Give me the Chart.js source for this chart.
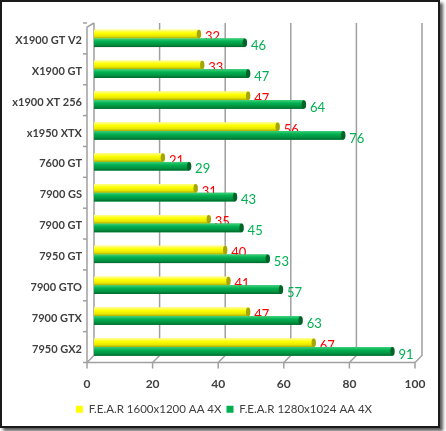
<!DOCTYPE html>
<html>
<head>
<meta charset="utf-8">
<script src="https://cdn.jsdelivr.net/npm/chart.js@4"></script>
<style>
html, body { margin: 0; padding: 0; background: #fff; }
#frame { position: absolute; left: 0; top: 0; width: 440px; height: 428px; box-sizing: border-box;
  border: 2px solid #1a1a1a; box-shadow: 3px 3px 3px rgba(0,0,0,0.65); background: #fff; }
#c { position: absolute; left: 0; top: 0; }
</style>
</head>
<body>
<div id="frame"></div>
<canvas id="c" width="446" height="431"></canvas>
<script>
const cards = ["X1900 GT V2", "X1900 GT", "x1900 XT 256", "x1950 XTX", "7600 GT", "7900 GS",
  "7900 GT", "7950 GT", "7900 GTO", "7900 GTX", "7950 GX2"];
const fear1600 = [32, 33, 47, 56, 21, 31, 35, 40, 41, 47, 67];
const fear1280 = [46, 47, 64, 76, 29, 43, 45, 53, 57, 63, 91];
const seriesNames = ["F.E.A.R 1600x1200 AA 4X", "F.E.A.R 1280x1024 AA 4X"];
const xTicks = [0, 20, 40, 60, 80, 100];

const depth = 7;
const textColor = "#404040";
const gridColor = "#a0a0a0";

// back wall, floor and left wall lines (fake 3D look)
const wallPlugin = {
  id: "wall",
  afterLayout(chart) {
    // legend sits a bit right of centre in the original
    chart.legend.left += 13;
    chart.legend.right += 13;
  },
  beforeDatasetsDraw(chart) {
    const { ctx, chartArea: a, scales: { x } } = chart;
    ctx.save();
    ctx.strokeStyle = gridColor;
    ctx.lineWidth = 1.5;
    xTicks.forEach(v => {
      const px = x.getPixelForValue(v);
      ctx.beginPath();
      ctx.moveTo(px, a.top);
      ctx.lineTo(px, a.bottom - depth);
      ctx.lineTo(px - depth, a.bottom);
      ctx.lineTo(px - depth, a.bottom + 6);
      ctx.stroke();
    });
    const x0 = x.getPixelForValue(xTicks[0]);
    const x1 = x.getPixelForValue(xTicks[xTicks.length - 1]);
    ctx.beginPath();
    ctx.moveTo(x0 - depth, a.bottom);
    ctx.lineTo(x1 - depth, a.bottom);
    ctx.stroke();
    ctx.beginPath();
    ctx.moveTo(x0, a.top);
    ctx.lineTo(x0 - depth, a.top + depth * 0.6);
    ctx.lineTo(x0 - depth, a.bottom);
    ctx.stroke();
    const step = (a.bottom - a.top) / cards.length;
    for (let i = 0; i <= cards.length; i++) {
      const py = a.top + i * step;
      ctx.beginPath();
      ctx.moveTo(x0 - depth - 4, py);
      ctx.lineTo(x0 - depth, py);
      ctx.stroke();
    }
    ctx.restore();
  }
};

const shades = [
  { top: "#ffff9a", mid: "#ffff00", low: "#e6e600", edge: "#a6a600", label: "#ff0000" },
  { top: "#3fd27a", mid: "#00b050", low: "#009040", edge: "#006428", label: "#00b050" }
];

// cylinder shading, end caps and value labels
const barPlugin = {
  id: "barLook",
  afterDatasetsDraw(chart) {
    const ctx = chart.ctx;
    ctx.save();
    chart.data.datasets.forEach((ds, di) => {
      const meta = chart.getDatasetMeta(di);
      const s = shades[di];
      meta.data.forEach((el, i) => {
        const h = el.height;
        const t = el.y - h / 2;
        const g = ctx.createLinearGradient(0, t, 0, t + h);
        g.addColorStop(0, s.top);
        g.addColorStop(0.35, s.mid);
        g.addColorStop(0.75, s.low);
        g.addColorStop(1, s.edge);
        ctx.fillStyle = g;
        ctx.fillRect(el.base, t, el.x - el.base, h);
        ctx.beginPath();
        ctx.ellipse(el.x, el.y, 2.2, h / 2, 0, 0, Math.PI * 2);
        ctx.fillStyle = s.edge;
        ctx.fill();
        ctx.font = "13px Lato";
        ctx.fillStyle = s.label;
        ctx.textBaseline = "middle";
        ctx.textAlign = "left";
        ctx.fillText(ds.data[i], el.x + 6, el.y + 3);
      });
    });
    ctx.restore();
  }
};

new Chart(document.getElementById("c"), {
  type: "bar",
  data: {
    labels: cards,
    datasets: [
      { label: seriesNames[0], data: fear1600, backgroundColor: "#ffff00", borderWidth: 0 },
      { label: seriesNames[1], data: fear1280, backgroundColor: "#00b050", borderWidth: 0 }
    ]
  },
  options: {
    indexAxis: "y",
    responsive: false,
    animation: false,
    categoryPercentage: 0.56,
    barPercentage: 1,
    layout: { padding: { left: 0, right: 24, top: 23, bottom: 6 } },
    scales: {
      x: {
        min: 0, max: 100,
        afterBuildTicks: s => { s.ticks = xTicks.map(v => ({ value: v })); },
        afterFit: s => { s.height = 36; },
        grid: { display: false },
        border: { display: false },
        ticks: { padding: 6, labelOffset: -depth, color: textColor, font: { family: "Lato", size: 12, weight: "bold" } }
      },
      y: {
        afterFit: s => { s.width = 94; },
        grid: { display: false },
        border: { display: false },
        ticks: { padding: 4, labelOffset: 2, color: textColor, font: { family: "Lato", size: 11, weight: "bold" } }
      }
    },
    plugins: {
      tooltip: { enabled: false },
      legend: {
        position: "bottom",
        labels: { boxWidth: 7, boxHeight: 7, padding: 5, color: textColor, font: { family: "Lato", size: 11.5 } }
      }
    }
  },
  plugins: [wallPlugin, barPlugin]
});
</script>
</body>
</html>
